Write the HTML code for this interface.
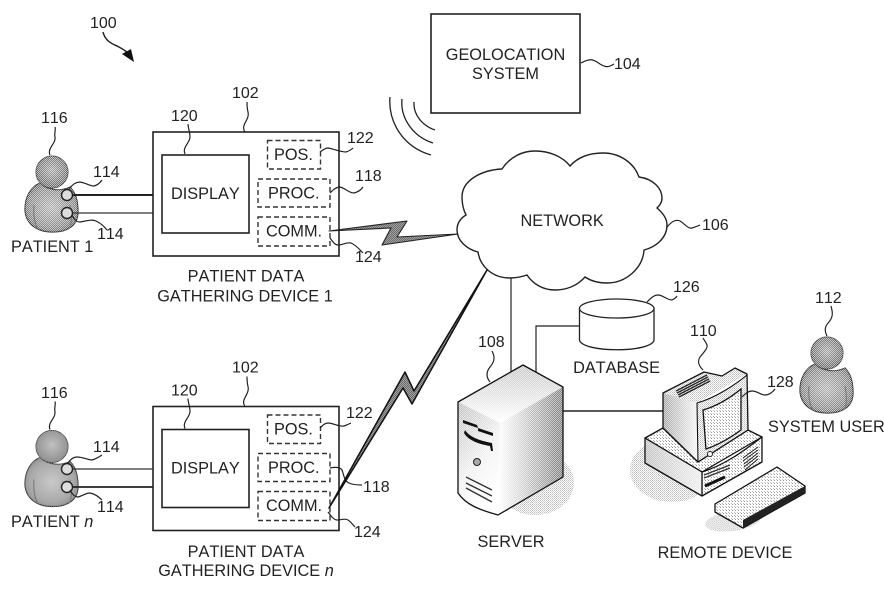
<!DOCTYPE html>
<html><head><meta charset="utf-8"><style>
html,body{margin:0;padding:0;background:#fff}
svg{display:block}
text{font-family:"Liberation Sans",sans-serif;font-size:16px;fill:#222;font-kerning:none}
.t{font-size:16.3px}
.l{fill:none;stroke:#222;stroke-width:1.2}
.b{fill:#fff;stroke:#222;stroke-width:1.6}
.d{fill:#fff;stroke:#333;stroke-width:1.4;stroke-dasharray:5 3}
.o{stroke:#111;stroke-width:1.3;stroke-linejoin:round}
</style></head><body>
<svg width="884" height="610" viewBox="0 0 884 610" xmlns="http://www.w3.org/2000/svg">
<defs>
<pattern id="dots" width="2" height="2" patternUnits="userSpaceOnUse"><rect width="1" height="1" fill="#fff" fill-opacity=".55"/><rect x="1" y="1" width="1" height="1" fill="#fff" fill-opacity=".55"/></pattern>
<pattern id="p1" width="2" height="2" patternUnits="userSpaceOnUse"><rect width="2" height="2" fill="#a0a0a0"/><rect width="1" height="1" fill="#6c6c6c"/><rect x="1" y="1" width="1" height="1" fill="#6c6c6c"/></pattern>
<pattern id="p2" width="2" height="2" patternUnits="userSpaceOnUse"><rect width="2" height="2" fill="#fff"/><rect width="1" height="1" fill="#bbb"/><rect x="1" y="1" width="1" height="1" fill="#d4d4d4"/></pattern>
<pattern id="p4" width="3" height="3" patternUnits="userSpaceOnUse"><rect width="3" height="3" fill="#fff"/><rect width="1" height="1" fill="#999"/><rect x="2" y="2" width="1" height="1" fill="#bbb"/></pattern>
<radialGradient id="gb" cx=".5" cy=".5" r=".6"><stop offset="0" stop-color="#b4b4b4"/><stop offset=".7" stop-color="#888"/><stop offset="1" stop-color="#5a5a5a"/></radialGradient>
<radialGradient id="gh" cx=".5" cy=".45" r=".55"><stop offset="0" stop-color="#a8a8a8"/><stop offset="1" stop-color="#666"/></radialGradient>
<linearGradient id="sr" x1="0" x2="1" y1="0" y2="0"><stop offset="0" stop-color="#fff"/><stop offset=".4" stop-color="#d0d0d0"/><stop offset="1" stop-color="#7c7c7c"/></linearGradient>
<linearGradient id="sl" x1="0" x2=".5" y1="0" y2="1"><stop offset="0" stop-color="#bbb"/><stop offset=".6" stop-color="#f0f0f0"/><stop offset="1" stop-color="#fff"/></linearGradient>
<linearGradient id="st" x1=".5" x2=".5" y1="0" y2="1"><stop offset="0" stop-color="#c4c4c4"/><stop offset="1" stop-color="#fff"/></linearGradient>
<linearGradient id="ml" x1="0" x2="1" y1="0" y2="0"><stop offset="0" stop-color="#a4a4a4"/><stop offset="1" stop-color="#f6f6f6"/></linearGradient>
<linearGradient id="bl" x1="0" x2="1" y1="0" y2="0"><stop offset="0" stop-color="#c0c0c0"/><stop offset="1" stop-color="#eee"/></linearGradient>
<g id="person">
<path d="M40 183C30 187 25 198 25 209C25 222 35 232 53 232C68 232 78 225 78 212C78 201 76 193 70 187C60 192 47 190 40 183Z" fill="url(#gb)" stroke="#333" stroke-width="1.2"/>
<path d="M40 183C30 187 25 198 25 209C25 222 35 232 53 232C68 232 78 225 78 212C78 201 76 193 70 187C60 192 47 190 40 183Z" fill="url(#dots)"/>
<path d="M34 205C33 215 35 225 38 229M70 205C72 215 72 225 69 229" fill="none" stroke="#777" stroke-width="1"/>
<circle cx="52" cy="172" r="16" fill="url(#gh)" stroke="#444" stroke-width="1"/>
<circle cx="52" cy="172" r="16" fill="url(#dots)"/>
</g>
<g id="dev">
<rect class="b" x="153" y="132" width="186" height="124"/>
<rect class="b" x="162" y="155" width="87" height="78"/>
<rect class="d" x="267.500" y="140.500" width="53" height="28.500"/>
<rect class="d" x="258" y="179" width="72" height="28"/>
<rect class="d" x="258" y="217" width="72" height="29"/>
<path class="l" d="M50 155C47 148 56 144 55 137C54 133 56 130 55 127"/>
<path class="l" d="M185 154C182 147 190 143 190 137C190 132 188 128 188 124"/>
<path class="l" d="M245 132C240 125 250 120 248 112C247 108 247 105 247 102"/>
<text x="171" y="199" class="t">DISPLAY</text>
<text x="274" y="160" class="t">POS.</text>
<text x="268" y="198.500" class="t">PROC.</text>
<text x="266" y="236.500" class="t">COMM.</text>
<text x="171" y="121">120</text>
<text x="232" y="98">102</text>
</g>
</defs>
<rect width="884" height="610" fill="#fff"/>

<text x="90" y="28">100</text>
<path d="M103 32C105 40 110 43 117 46C121 48 125 50 129 54" class="l" style="stroke-width:1.500"/>
<path d="M134 62L122 54L131 49Z" fill="#111"/>

<!-- geolocation -->
<rect class="b" x="431" y="14" width="149" height="99"/>
<text x="505.500" y="60" text-anchor="middle" class="t">GEOLOCATION</text>
<text x="505.500" y="79" text-anchor="middle" class="t">SYSTEM</text>
<path class="l" d="M581 63C590 58 593 59 600 64C606 68 609 67 614 64"/>
<text x="614" y="69">104</text>
<path class="l" d="M390 97C388 122 403 147 431 155M402 99C400 119 414 137 433 143M414 102C413 115 423 126 435 130" style="stroke-width:1.300"/>

<!-- wires -->
<line x1="511" y1="275" x2="511" y2="380" stroke="#222" stroke-width="1.2"/>
<path class="l" d="M536 380V326H581"/>
<line x1="563" y1="411" x2="665" y2="411" stroke="#222" stroke-width="1.5"/>

<!-- cloud -->
<path d="M502 169C510 157 522 151 535 151C550 151 563 157 570 166C578 157 590 153 603 153C620 153 634 163 639 177C653 179 662 188 662 198C662 203 659 206 657 208C663 213 667 219 667 225C667 238 656 247 644 250C643 268 626 283 607 283C599 283 591 281 585 277C577 286 566 290 555 290C543 290 533 284 527 275C521 277 515 278 510 278C492 278 480 266 478 252C466 249 457 240 457 230C457 223 461 218 466 215C463 209 462 203 462 197C462 180 482 170 502 169Z" fill="#fff" stroke="#222" stroke-width="1.4"/>
<text x="520.500" y="226" class="t">NETWORK</text>
<path class="l" d="M667 227C672 221 676 219 680 221C685 224 688 229 692 228C695 227 698 226 700 225"/>
<text x="702" y="230">106</text>

<!-- device 1 -->
<use href="#person"/>
<circle cx="67" cy="195" r="5.500" fill="#ddd" stroke="#222" stroke-width="1.4"/>
<circle cx="67" cy="213" r="5.500" fill="#ddd" stroke="#222" stroke-width="1.4"/>
<line x1="73" y1="195" x2="153" y2="195" stroke="#222" stroke-width="2"/>
<line x1="73" y1="213" x2="153" y2="213" stroke="#333" stroke-width="1.2"/>
<use href="#dev"/>
<path class="l" d="M69 189C72 185 76 182 80 182C86 183 90 186 94 186C98 185 100 183 102 180"/>
<path class="l" d="M72 215C74 219 76 222 80 222C86 221 92 219 96 221C100 223 104 226 107 230"/>
<path class="l" d="M320 152C323 150 325 148 328 148C334 149 340 152 346 152C349 151 351 150 353 148"/>
<path class="l" d="M330 193C333 190 336 187 340 187C345 188 349 193 354 193C358 192 361 190 363 187"/>
<path class="l" d="M330 238C333 242 335 245 338 245C342 245 347 242 351 243C356 245 360 250 363 253"/>
<text x="93" y="177">114</text>
<text x="97" y="239">114</text>
<text x="41" y="123">116</text>
<text x="347" y="143">122</text>
<text x="355" y="181">118</text>
<text x="355" y="262">124</text>
<text x="11" y="252" class="t">PATIENT 1</text>
<text x="246" y="281.500" text-anchor="middle" class="t">PATIENT DATA</text>
<text x="245" y="301.500" text-anchor="middle" class="t">GATHERING DEVICE 1</text>
<path d="M329 231L407 221L397 237L458 234L382 245L391 228Z" fill="url(#p1)" stroke="#222" stroke-width="1.100" stroke-linejoin="round"/>

<!-- device n -->
<g transform="translate(0,274.500)">
<use href="#person"/>
<use href="#dev"/>
</g>
<circle cx="67" cy="469" r="5.500" fill="#ddd" stroke="#222" stroke-width="1.4"/>
<circle cx="67" cy="487" r="5.500" fill="#ddd" stroke="#222" stroke-width="1.4"/>
<line x1="73" y1="469" x2="153" y2="469" stroke="#333" stroke-width="1.2"/>
<line x1="73" y1="487" x2="153" y2="487" stroke="#222" stroke-width="1.8"/>
<path class="l" d="M68 463C70 460 73 457 77 457C83 457 88 460 92 460C96 459 99 457 102 455"/>
<path class="l" d="M70 490C72 494 75 497 78 497C82 496 86 493 90 493C95 494 99 497 102 500"/>
<path class="l" d="M320 428C323 425 325 423 328 423C333 423 339 427 344 426C347 425 349 424 351 423"/>
<path class="l" d="M330 468C335 467 340 467 342 470C344 475 344 481 349 483C353 485 358 485 362 485"/>
<path class="l" d="M328 512C331 516 334 520 337 520C341 520 345 518 348 520C351 522 353 525 355 527"/>
<text x="93" y="452">114</text>
<text x="97" y="512">114</text>
<text x="41" y="398">116</text>
<text x="346" y="418">122</text>
<text x="363" y="492">118</text>
<text x="354" y="537">124</text>
<text x="11" y="527" class="t">PATIENT <tspan font-style="italic">n</tspan></text>
<text x="246" y="557" text-anchor="middle" class="t">PATIENT DATA</text>
<text x="246" y="576" text-anchor="middle" class="t">GATHERING DEVICE <tspan font-style="italic">n</tspan></text>
<path d="M329 508L405 372L414 391L487 270L412 404L403 388Z" fill="url(#p1)" stroke="#111" stroke-width="1.500" stroke-linejoin="round"/>

<!-- database -->
<path d="M579.500 308V340C582 353 652 353 654 340V308" fill="#fff" stroke="#222" stroke-width="1.300"/>
<ellipse cx="616.750" cy="308.500" rx="37.250" ry="9.500" fill="#fff" stroke="#222" stroke-width="1.300"/>
<path class="l" d="M647 302C651 298 654 295 658 295C663 295 667 300 672 300C674 299 676 298 677 296"/>
<text x="673" y="292">126</text>
<text x="616.500" y="373" text-anchor="middle" class="t">DATABASE</text>

<!-- server -->
<ellipse cx="535" cy="483" rx="39" ry="32" fill="url(#p2)"/>
<path class="l" d="M490 382C486 377 486 372 490 367C495 361 495 357 492 351"/>
<text x="478" y="347">108</text>
<path d="M458 402L523 365L563 387L500 423Z" fill="url(#st)"/>
<path d="M458 402L523 365L563 387L500 423Z" fill="url(#dots)"/>
<path d="M458 402L500 423V515C480 510 466 505 458 493Z" fill="url(#sl)"/>
<path d="M458 402L500 423V515C480 510 466 505 458 493Z" fill="url(#dots)"/>
<path d="M500 423L563 387V477L498 515Z" fill="url(#sr)"/>
<path d="M500 423L563 387V477L498 515Z" fill="url(#dots)"/>
<path class="o" d="M458 402L523 365L563 387V477L498 515C480 510 466 505 458 493Z" fill="none"/>
<path d="M463 420L477 425L478 428L463 423ZM478 428L493 433V436L478 431ZM465 430C470 438 482 441 492 443L493 451H491L490 446C478 444 468 440 464 433Z" fill="#111"/>
<circle cx="477" cy="462" r="3.500" fill="#aaa" stroke="#222"/>
<path d="M466 477L492 490M466 483L492 496M466 488L492 502" stroke="#333" stroke-width="1.300"/>
<text x="511" y="547" text-anchor="middle" class="t">SERVER</text>

<!-- remote device -->
<ellipse cx="672" cy="470" rx="42" ry="32" fill="url(#p2)"/>
<ellipse cx="733" cy="521" rx="28" ry="10" transform="rotate(-8 733 521)" fill="url(#p2)"/>
<path d="M645 438L663 428L698 462L748 430L762 437L702 472Z" fill="url(#p4)" stroke="#111" stroke-width="1.300" stroke-linejoin="round"/>
<path d="M645 438L702 472V496L645 463Z" fill="url(#bl)"/>
<path d="M645 438L702 472V496L645 463Z" fill="url(#dots)"/>
<path d="M702 472C725 465 745 450 762 437V462L702 496Z" fill="#fff"/>
<path d="M702 472C725 465 745 450 762 437V462L702 496Z" fill="url(#p4)"/>
<path class="o" d="M645 438L702 472C725 465 745 450 762 437V462L702 496L645 463Z" fill="none"/>
<line x1="702" y1="472" x2="702" y2="496" stroke="#111" stroke-width="1.300"/>
<path d="M663 393L704 372L722 376L735 368L747 374L697 403Z" fill="url(#p2)"/>
<path d="M663 393L697 403V448L698 462L663 428Z" fill="url(#ml)"/>
<path d="M663 393L697 403V448L698 462L663 428Z" fill="url(#dots)"/>
<path d="M697 403C715 398 735 385 747 375L748 430L698 462Z" fill="url(#p2)"/>
<path class="o" d="M663 393L704 372L722 376L735 368L747 374L748 430L698 462L663 428Z" fill="none"/>
<path d="M697 403C715 398 735 385 747 375M697 403L698 462" fill="none" stroke="#111" stroke-width="1.100"/>
<path d="M703 410C717 406 730 398 741 389V430C730 438 718 445 706 449Z" fill="url(#p4)" stroke="#111" stroke-width="1.300"/>
<path d="M676 391L707 375M677 393L708 377M678 395L709 379M679 397L710 381" stroke="#222" stroke-width="1.300"/>
<circle cx="710" cy="454" r="2.500" fill="#fff" stroke="#222"/>
<path d="M704 475L730 465M704 478L730 468" stroke="#333" stroke-width="1.300"/>
<path d="M705 486L725 477" stroke="#111" stroke-width="3"/>
<path d="M743 458L758 447M743 461L758 450M744 464L758 453M744 467L758 456M745 470L758 459" stroke="#222" stroke-width="1"/>
<path class="l" d="M703 370C699 366 697 362 700 357C704 352 708 348 707 345C706 342 704 340 703 338"/>
<text x="690" y="336">110</text>
<path class="l" d="M742 397C745 394 748 391 752 391C757 391 761 395 765 395C769 395 773 392 775 389"/>
<text x="767" y="387">128</text>
<path d="M715 504L777 467L805 486V493L743 528L715 512Z" fill="url(#p4)" stroke="#111" stroke-width="1.300" stroke-linejoin="round"/>
<path d="M743 520L805 486V493L743 528Z" fill="#222"/>
<text x="725" y="558" text-anchor="middle" class="t">REMOTE DEVICE</text>

<!-- system user -->
<g transform="translate(775,181)"><use href="#person"/></g>
<path class="l" d="M827 336C824 330 825 326 829 322C833 317 833 313 831 306"/>
<text x="815" y="303">112</text>
<text x="768" y="432" class="t">SYSTEM USER</text>
</svg>
</body></html>
